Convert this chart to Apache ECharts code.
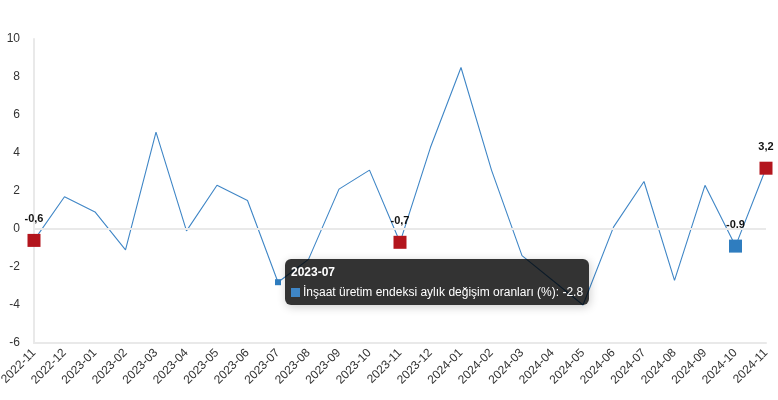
<!DOCTYPE html>
<html><head><meta charset="utf-8">
<script src="https://cdn.jsdelivr.net/npm/echarts@6/dist/echarts.min.js"></script>
<style>html,body{margin:0;padding:0;background:#fff}#c{width:778px;height:400px}</style>
</head><body><div id="c"></div>
<script>
const categories = ['2022-11','2022-12','2023-01','2023-02','2023-03','2023-04','2023-05','2023-06','2023-07','2023-08','2023-09','2023-10','2023-11','2023-12','2024-01','2024-02','2024-03','2024-04','2024-05','2024-06','2024-07','2024-08','2024-09','2024-10','2024-11'];
const values = [-0.6,1.7,0.9,-1.1,5.1,-0.1,2.3,1.5,-2.8,-1.6,2.1,3.1,-0.7,4.3,8.5,3.1,-1.4,-2.7,-4.0,0.1,2.5,-2.7,2.3,-0.9,3.2];
const yMin = -6, yMax = 10, yInterval = 2;
const seriesName = 'İnşaat üretim endeksi aylık değişim oranları (%)';
const redMarked = ['2022-11','2023-11','2024-11'];
const blueMarked = ['2024-10'];
const hovered = '2023-07';

const FONT = '"Liberation Sans", Arial, sans-serif';
const lineColor = '#3f86c6';
const red = '#b3151d';
const blue = '#2f7dbf';

const data = values.map((v, i) => {
  const c = categories[i];
  if (redMarked.includes(c) || blueMarked.includes(c)) {
    return {
      value: v, symbol: 'rect', symbolSize: 13,
      itemStyle: { color: redMarked.includes(c) ? red : blue },
      label: { show: true }
    };
  }
  if (c === hovered) {
    return { value: v, symbol: 'rect', symbolSize: 6, itemStyle: { color: blue } };
  }
  return { value: v, symbol: 'rect', symbolSize: 0 };
});

const chart = echarts.init(document.getElementById('c'), null, { renderer: 'canvas' });
chart.setOption({
  animation: false,
  textStyle: { fontFamily: FONT },
  grid: { left: 34, right: 12, top: 39, bottom: 57, containLabel: false, outerBoundsMode: 'none' },
  tooltip: {
    trigger: 'item',
    alwaysShowContent: true,
    transitionDuration: 0,
    backgroundColor: 'rgba(0,0,0,0.8)',
    borderWidth: 0,
    padding: [3, 6],
    extraCssText: 'border-radius:6px;white-space:nowrap;',
    position: function (point) { return [point[0] + 7, point[1] - 23]; },
    formatter: function (p) {
      const v = String(p.value);
      return '<div style="font-family:' + FONT.replace(/"/g, "'") + ';color:#fff">' +
        '<div style="font-weight:bold;font-size:12px;line-height:20px">' + p.name + '</div>' +
        '<div style="font-size:12px;line-height:20px"><span style="display:inline-block;width:9px;height:9px;background:' + lineColor + ';margin-right:3px;vertical-align:-1px"></span>' +
        p.seriesName + ': ' + v + '</div></div>';
    }
  },
  xAxis: {
    type: 'category',
    data: categories,
    boundaryGap: false,
    axisLine: { show: true, onZero: false, lineStyle: { color: '#e9e9e9', width: 2 } },
    axisTick: { show: false },
    splitLine: { show: false },
    axisLabel: { interval: 0, rotate: 45, color: '#333', fontSize: 12, margin: 8, fontFamily: FONT }
  },
  yAxis: {
    type: 'value',
    min: yMin, max: yMax, interval: yInterval,
    axisLine: { show: true, lineStyle: { color: '#e9e9e9', width: 2 } },
    axisTick: { show: false },
    splitLine: { show: false },
    axisLabel: { color: '#333', fontSize: 12, margin: 14, fontFamily: FONT }
  },
  series: [{
    name: seriesName,
    type: 'line',
    data: data,
    showSymbol: true,
    symbol: 'rect',
    color: lineColor,
    lineStyle: { color: lineColor, width: 1.1 },
    label: {
      show: false, position: 'top', distance: 9,
      color: '#111', fontWeight: 'bold', fontSize: 11, fontFamily: FONT,
      formatter: p => String(p.value).replace('.', ',')
    },
    emphasis: { scale: false },
    markLine: {
      silent: true, symbol: 'none', animation: false,
      label: { show: false },
      lineStyle: { color: '#e9e9e9', type: 'solid', width: 2 },
      data: [{ yAxis: 0 }]
    }
  }]
});
chart.dispatchAction({ type: 'showTip', seriesIndex: 0, dataIndex: categories.indexOf(hovered) });
</script>
</body></html>
